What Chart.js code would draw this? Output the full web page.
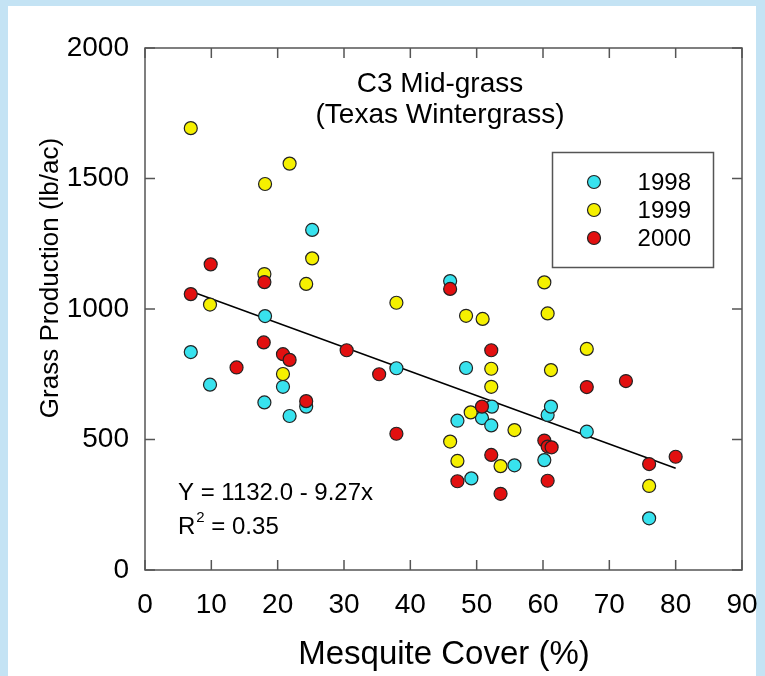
<!DOCTYPE html>
<html>
<head>
<meta charset="utf-8">
<script src="https://cdn.jsdelivr.net/npm/chart.js@4.4.0/dist/chart.umd.min.js"></script>
<style>
html, body { margin: 0; padding: 0; background: #c4e3f4; }
#wrap { width: 765px; height: 676px; }
</style>
</head>
<body>
<div id="wrap"><canvas id="grassChart" width="765" height="676"></canvas></div>
<script>
// Mesquite cover (%) and grass production (lb/ac)
var cover1998 = [6.9, 9.8, 18.1, 18.0, 20.8, 21.8, 24.3, 25.2, 37.9, 46.0, 47.1, 48.4, 49.2, 50.8, 52.3, 52.2, 55.7, 60.2, 60.7, 61.2, 66.6, 76.0];
var prod1998  = [835, 710, 973, 642, 702, 590, 626, 1303, 773, 1107, 572, 774, 351, 582, 626, 554, 401, 421, 594, 626, 530, 198];

var cover1999 = [6.9, 9.8, 18.1, 18.0, 20.8, 21.8, 24.3, 25.2, 37.9, 46.0, 47.1, 48.4, 49.1, 50.9, 52.2, 52.2, 53.6, 55.7, 60.2, 60.7, 61.2, 66.6, 76.0];
var prod1999  = [1693, 1017, 1479, 1134, 751, 1557, 1096, 1194, 1024, 492, 418, 974, 604, 962, 771, 702, 398, 536, 1102, 983, 766, 847, 322];

var cover2000 = [6.9, 9.9, 13.8, 18.0, 17.9, 20.8, 21.8, 24.3, 30.4, 35.3, 37.9, 46.0, 47.1, 50.8, 52.2, 52.2, 53.6, 60.2, 60.7, 61.3, 60.7, 66.6, 72.5, 76.0, 80.0];
var prod2000  = [1057, 1171, 776, 1103, 872, 827, 805, 647, 842, 750, 522, 1077, 340, 626, 842, 441, 292, 496, 473, 470, 342, 701, 724, 406, 434];

// regression line end points
var trendX = [7, 80];
var trendY = [1067, 390];

var years = ['1998', '1999', '2000'];

function toPoints(xs, ys) {
    return xs.map(function (x, i) { return { x: x, y: ys[i] }; });
}

var FONT = '"Liberation Sans", Arial, sans-serif';

// light blue frame + white panel
var backgroundPlugin = {
    id: 'background',
    beforeDraw: function (chart) {
        var c = chart.ctx;
        c.save();
        c.fillStyle = '#c4e3f4';
        c.fillRect(0, 0, chart.width, chart.height);
        c.fillStyle = '#ffffff';
        c.fillRect(8, 6, 748, 670);
        c.restore();
    }
};

// plot box with inward ticks on all four sides
var framePlugin = {
    id: 'frame',
    beforeDatasetsDraw: function (chart) {
        var c = chart.ctx, a = chart.chartArea;
        var xs = chart.scales.x, ys = chart.scales.y;
        c.save();
        c.strokeStyle = '#555555';
        c.lineWidth = 1.5;
        c.strokeRect(a.left, a.top, a.right - a.left, a.bottom - a.top);
        c.beginPath();
        xs.ticks.forEach(function (t) {
            var px = xs.getPixelForValue(t.value);
            c.moveTo(px, a.bottom); c.lineTo(px, a.bottom - 10);
            c.moveTo(px, a.top); c.lineTo(px, a.top + 10);
        });
        ys.ticks.forEach(function (t) {
            var py = ys.getPixelForValue(t.value);
            c.moveTo(a.left, py); c.lineTo(a.left + 10, py);
            c.moveTo(a.right, py); c.lineTo(a.right - 10, py);
        });
        c.stroke();
        c.restore();
    }
};

// titles, equation, axis titles and the boxed legend
var textPlugin = {
    id: 'texts',
    afterDraw: function (chart) {
        var c = chart.ctx;
        c.save();
        c.fillStyle = '#000';
        c.textAlign = 'center';
        c.textBaseline = 'alphabetic';
        c.font = '28px ' + FONT;
        c.fillText('C3 Mid-grass', 440, 92);
        c.fillText('(Texas Wintergrass)', 440, 123);

        c.textAlign = 'left';
        c.font = '24px ' + FONT;
        c.fillText('Y = 1132.0 - 9.27x', 178, 500);
        c.fillText('R', 178, 534);
        var rw = c.measureText('R').width;
        c.font = '15px ' + FONT;
        c.fillText('2', 178 + rw + 1, 522);
        var sw = c.measureText('2').width;
        c.font = '24px ' + FONT;
        c.fillText(' = 0.35', 178 + rw + sw + 1, 534);

        c.textAlign = 'center';
        c.font = '33px ' + FONT;
        c.fillText('Mesquite Cover (%)', 444, 664);
        c.save();
        c.translate(58, 278);
        c.rotate(-Math.PI / 2);
        c.font = '26px ' + FONT;
        c.fillText('Grass Production (lb/ac)', 0, 0);
        c.restore();

        // legend
        c.strokeStyle = '#555555';
        c.lineWidth = 1.5;
        c.strokeRect(552.5, 152.5, 161, 115);
        var ly = [182, 210, 238];
        chart.data.datasets.forEach(function (ds) {
            var k = years.indexOf(ds.label);
            if (k < 0) return;
            c.beginPath();
            c.arc(594, ly[k], 6.5, 0, Math.PI * 2);
            c.fillStyle = ds.backgroundColor;
            c.fill();
            c.lineWidth = 1.2;
            c.strokeStyle = '#222';
            c.stroke();
            c.fillStyle = '#000';
            c.textAlign = 'right';
            c.textBaseline = 'middle';
            c.font = '24px ' + FONT;
            c.fillText(ds.label, 691, ly[k] + 1);
        });
        c.restore();
    }
};

var ctx = document.getElementById('grassChart').getContext('2d');

var grassChart = new Chart(ctx, {
    type: 'scatter',
    data: {
        datasets: [{
            label: years[0],
            data: toPoints(cover1998, prod1998),
            backgroundColor: '#38e2ee',
            borderColor: '#222',
            borderWidth: 1.2,
            pointRadius: 6.5,
            order: 3
        }, {
            label: years[1],
            data: toPoints(cover1999, prod1999),
            backgroundColor: '#f5f000',
            borderColor: '#222',
            borderWidth: 1.2,
            pointRadius: 6.5,
            order: 2
        }, {
            label: years[2],
            data: toPoints(cover2000, prod2000),
            backgroundColor: '#e21010',
            borderColor: '#222',
            borderWidth: 1.2,
            pointRadius: 6.5,
            order: 1
        }, {
            label: 'trend',
            type: 'line',
            data: toPoints(trendX, trendY),
            borderColor: '#000',
            borderWidth: 1.5,
            pointRadius: 0,
            fill: false,
            order: 4
        }]
    },
    options: {
        responsive: false,
        animation: false,
        devicePixelRatio: 1,
        layout: { padding: { top: 48, right: 23, bottom: 56, left: 0 } },
        plugins: {
            legend: { display: false },
            tooltip: { enabled: false }
        },
        scales: {
            x: {
                type: 'linear',
                min: 0,
                max: 90,
                ticks: {
                    stepSize: 10, color: '#000', padding: 18, maxRotation: 0, autoSkip: false,
                    font: { size: 28, family: FONT },
                    callback: function (v) { return String(v); }
                },
                grid: { display: false, drawTicks: false },
                border: { display: false },
                afterFit: function (s) { s.height = 50; s.paddingLeft = 0; s.paddingRight = 0; }
            },
            y: {
                min: 0,
                max: 2000,
                ticks: {
                    stepSize: 500, color: '#000', padding: 16,
                    font: { size: 28, family: FONT },
                    callback: function (v) { return String(v); }
                },
                grid: { display: false, drawTicks: false },
                border: { display: false },
                afterFit: function (s) { s.width = 145; s.paddingTop = 0; s.paddingBottom = 0; }
            }
        }
    },
    plugins: [backgroundPlugin, framePlugin, textPlugin]
});
</script>
</body>
</html>
